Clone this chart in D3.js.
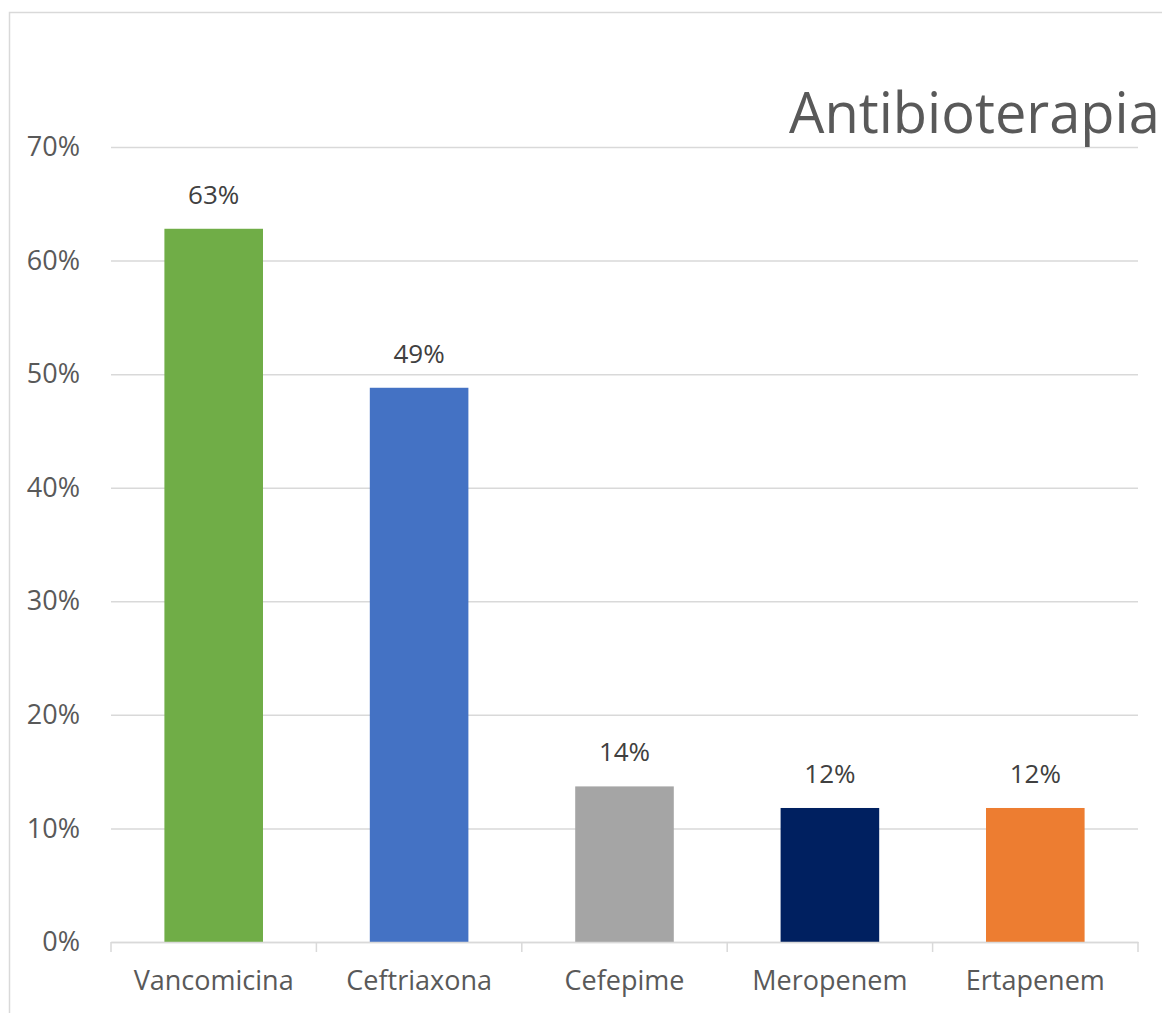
<!DOCTYPE html>
<html>
<head>
<meta charset="utf-8">
<script src="https://cdn.jsdelivr.net/npm/d3@7"></script>
<style>
  body { margin: 0; background: #fff; overflow: hidden; }
  svg { display: block; font-family: "Open Sans", sans-serif; }
</style>
</head>
<body>
<svg id="chart" width="1162" height="1013"></svg>
<script>
// chart data
var drugs = ["Vancomicina", "Ceftriaxona", "Cefepime", "Meropenem", "Ertapenem"];
var shares = [0.628, 0.488, 0.137, 0.118, 0.118];
var barColors = ["#70AD47", "#4472C4", "#A5A5A5", "#002060", "#ED7D31"];
var yTicks = [0, 0.1, 0.2, 0.3, 0.4, 0.5, 0.6, 0.7];
var title = "Antibioterapia";

var svg = d3.select("#chart");
// plot box (not "top": that name is taken by window.top)
var plotL = 111, plotR = 1138, plotT = 147, plotB = 942;

// outer chart border (runs off the right and bottom edge)
svg.append("rect")
  .attr("x", 9.5).attr("y", 12.5)
  .attr("width", 1200).attr("height", 1100)
  .attr("fill", "none").attr("stroke", "#d9d9d9").attr("stroke-width", 1.5);

var x = d3.scaleBand().domain(drugs).range([plotL, plotR]).paddingInner(0.52).paddingOuter(0.26);
var xt = d3.scaleBand().domain(drugs).range([plotL, plotR]);
var y = d3.scaleLinear().domain([0, 0.7]).range([plotB, plotT]);

// gridlines + y labels
var yAxis = d3.axisLeft(y).tickValues(yTicks).tickFormat(d3.format(".0%"))
  .tickSize(-(plotR - plotL)).tickPadding(31);
var gy = svg.append("g").attr("transform", "translate(" + plotL + ",0)").call(yAxis)
  .attr("font-family", null).attr("font-size", null);
gy.select(".domain").remove();
gy.selectAll(".tick line").attr("stroke", "#d9d9d9").attr("stroke-width", 1.5);
gy.selectAll(".tick text").attr("fill", "#595959").style("font-size", "27px");

// bars
svg.append("g").selectAll("rect").data(drugs).join("rect")
  .attr("x", function(d) { return x(d); })
  .attr("width", x.bandwidth())
  .attr("y", function(d, i) { return y(shares[i]); })
  .attr("height", function(d, i) { return y(0) - y(shares[i]); })
  .attr("fill", function(d, i) { return barColors[i]; });

// value labels
svg.append("g").selectAll("text").data(drugs).join("text")
  .attr("x", function(d) { return x(d) + x.bandwidth() / 2; })
  .attr("y", function(d, i) { return y(shares[i]) - 25; })
  .attr("text-anchor", "middle")
  .attr("fill", "#404040").style("font-size", "26px")
  .text(function(d, i) { return d3.format(".0%")(shares[i]); });

// category axis
var xAxis = d3.axisBottom(xt).tickSize(0).tickPadding(29);
var gx = svg.append("g").attr("transform", "translate(0," + plotB + ")").call(xAxis)
  .attr("font-family", null).attr("font-size", null);
gx.select(".domain").attr("stroke", "#d9d9d9").attr("stroke-width", 1.5);
gx.selectAll(".tick text").attr("fill", "#595959").style("font-size", "27px");
// tick marks at band boundaries
var edges = drugs.map(function(d) { return xt(d); }).concat([plotR]);
gx.selectAll(".edge").data(edges).join("line")
  .attr("x1", function(d) { return d; }).attr("x2", function(d) { return d; })
  .attr("y1", 0).attr("y2", 10)
  .attr("stroke", "#d9d9d9").attr("stroke-width", 1.5);

// title
svg.append("text")
  .attr("x", 789).attr("y", 133)
  .attr("fill", "#595959").style("font-size", "56px")
  .text(title);
</script>
</body>
</html>
